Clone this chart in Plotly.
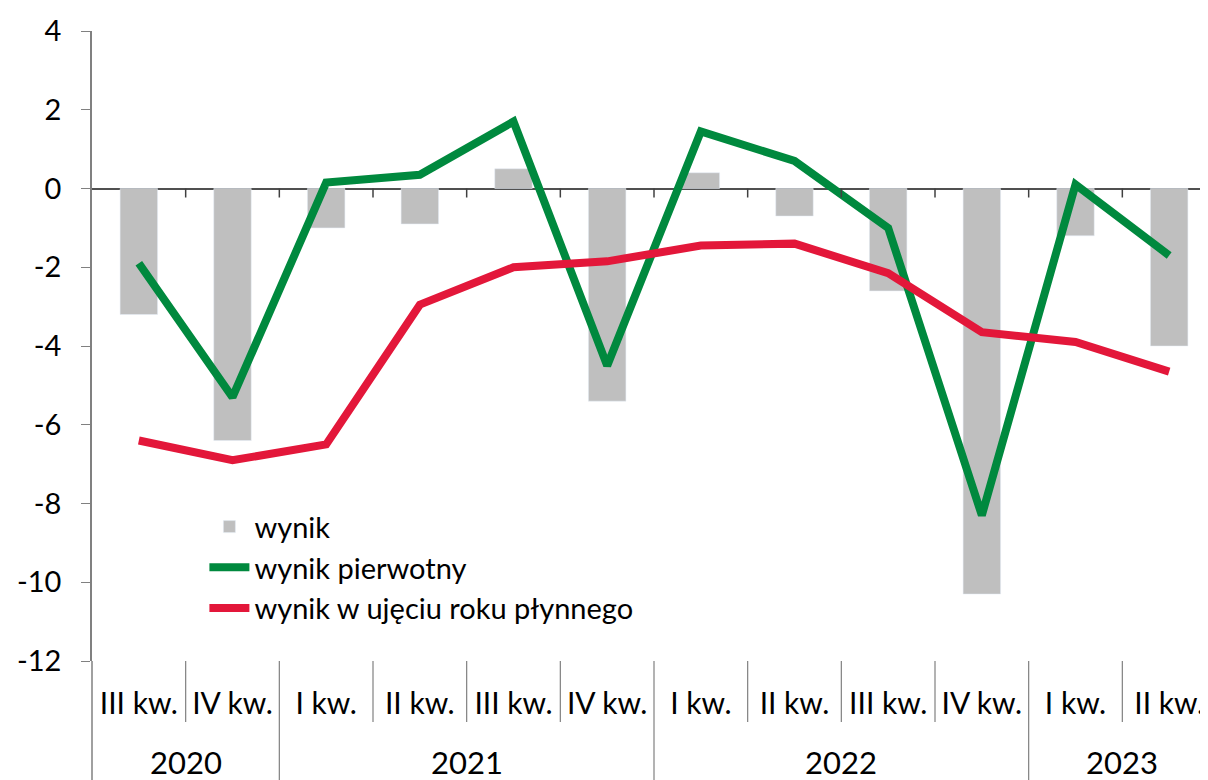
import plotly.graph_objects as go

years = ["2020", "2020", "2021", "2021", "2021", "2021", "2022", "2022", "2022", "2022", "2023", "2023"]
quarters = ["III kw.", "IV kw.", "I kw.", "II kw.", "III kw.", "IV kw.",
            "I kw.", "II kw.", "III kw.", "IV kw.", "I kw.", "II kw."]
wynik = [-3.2, -6.4, -1.0, -0.9, 0.5, -5.4, 0.4, -0.7, -2.6, -10.3, -1.2, -4.0]
wynik_pierwotny = [-1.9, -5.3, 0.15, 0.35, 1.7, -4.5, 1.45, 0.7, -1.0, -8.3, 0.1, -1.7]
wynik_roku = [-6.4, -6.9, -6.5, -2.95, -2.0, -1.85, -1.45, -1.4, -2.15, -3.65, -3.9, -4.65]
y_ticks = [4, 2, 0, -2, -4, -6, -8, -10, -12]
y_min, y_max = -12, 4

idx = list(range(len(quarters)))

fig = go.Figure()
fig.add_trace(go.Bar(x=idx, y=wynik, name="wynik", marker_color="#BFBFBF", width=0.4))
fig.add_trace(go.Scatter(x=idx, y=wynik_pierwotny, name="wynik pierwotny", mode="lines",
                         line=dict(color="#00893E", width=8)))
fig.add_trace(go.Scatter(x=idx, y=wynik_roku, name="wynik w ujęciu roku płynnego", mode="lines",
                         line=dict(color="#E3173A", width=8)))

shapes = []
axis_col = "#808080"
# small ticks on the zero line at category boundaries
for i in idx[1:]:
    shapes.append(dict(type="line", xref="x", yref="y", x0=i - 0.5, x1=i - 0.5,
                       ysizemode="pixel", yanchor=0, y0=0, y1=-9,
                       line=dict(color="#404040", width=1.5)))
# dividers below the plot
for i in idx[1:]:
    new_year = years[i] != years[i - 1]
    shapes.append(dict(type="line", xref="x", yref="paper", x0=i - 0.5, x1=i - 0.5,
                       y0=0, y1=-0.21 if new_year else -0.097,
                       line=dict(color=axis_col, width=1.2)))
# extend left axis line downward
shapes.append(dict(type="line", xref="paper", yref="paper", x0=0, x1=0, y0=0, y1=-0.21,
                   line=dict(color=axis_col, width=1.5)))

annotations = []
groups = {}
for i, yv in enumerate(years):
    groups.setdefault(yv, []).append(i)
for yv, ids in groups.items():
    annotations.append(dict(x=sum(ids) / len(ids), y=-0.16, xref="x", yref="paper",
                            text=yv, showarrow=False, yanchor="middle",
                            font=dict(family="Lato", size=31, color="black")))

fig.update_layout(
    width=1208, height=780,
    margin=dict(l=84, r=0, t=23, b=127, autoexpand=False),
    plot_bgcolor="white", paper_bgcolor="white",
    font=dict(family="Lato", size=24, color="black"),
    showlegend=True,
    legend=dict(x=0.1, y=0.148, xanchor="left", yanchor="middle",
                font=dict(family="Lato", size=29), bgcolor="rgba(0,0,0,0)",
                tracegroupgap=0, itemwidth=40),
    shapes=shapes, annotations=annotations,
)
fig.update_xaxes(
    range=[-0.5, 11.5], tickvals=idx, ticktext=quarters,
    showgrid=False, zeroline=False, showline=False, ticks="",
    ticklabelstandoff=22, automargin=False,
    tickfont=dict(family="Lato", size=30),
)
fig.update_yaxes(
    range=[y_min, y_max], tickvals=y_ticks, ticktext=[str(v) for v in y_ticks],
    showgrid=False, zeroline=True, zerolinecolor="#505050", zerolinewidth=1.5,
    showline=True, linecolor=axis_col, linewidth=1.5,
    ticks="outside", ticklen=9, tickcolor=axis_col, automargin=False,
    ticklabelstandoff=14,
    tickfont=dict(family="Lato", size=29),
)
fig.write_html("out.html")
